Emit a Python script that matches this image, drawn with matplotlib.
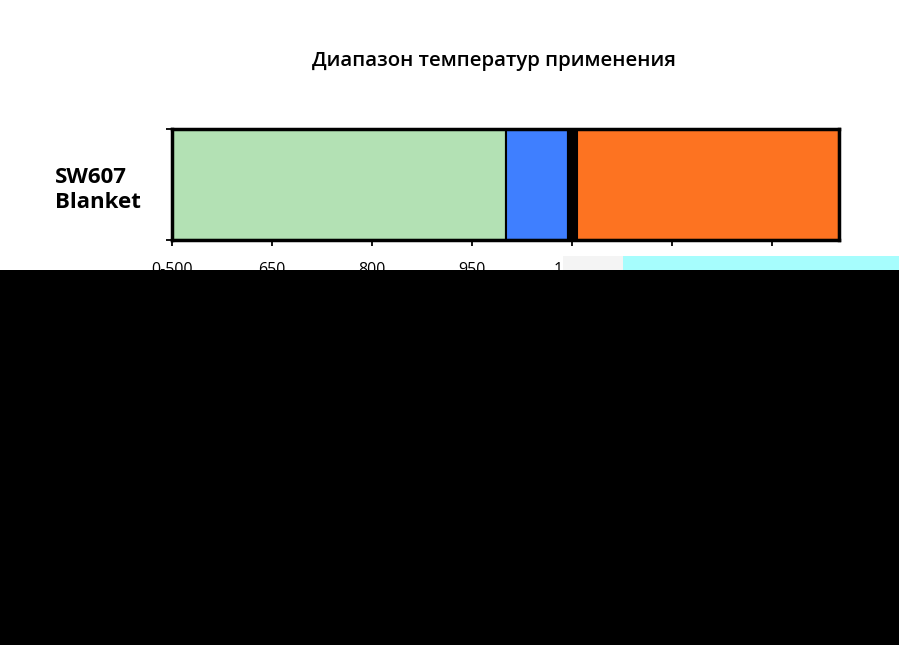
import matplotlib
matplotlib.use("Agg")
import matplotlib.pyplot as plt
from matplotlib.patches import Rectangle

# data
category = "SW607\nBlanket"
seg_starts = [500, 1000, 1093, 1107]
seg_widths = [500, 93, 14, 393]
seg_colors = ["#b3e1b4", "#3f7fff", "#000000", "#fd7321"]
tick_values = [500, 650, 800, 950, 1100, 1250, 1400]
tick_labels = ["0-500", "650", "800", "950", "1100", "1250", "1400"]
title = "Диапазон температур применения"

plt.rcParams['font.family'] = ['Open Sans', 'DejaVu Sans']

W, H = 899, 645
fig = plt.figure(figsize=(W / 100, H / 100), dpi=100)
fig.patch.set_facecolor("white")

ax = fig.add_axes([172 / W, 1 - 240 / H, (839 - 172) / W, (240 - 129) / H])

ax.barh([0.5], seg_widths, left=seg_starts, height=1.0, color=seg_colors,
        edgecolor="black", linewidth=1.5, zorder=2)

ax.set_xlim(500, 1500)
ax.set_ylim(0, 1)
ax.set_xticks(tick_values)
ax.set_xticklabels(tick_labels, fontsize=11.5)
ax.set_yticks([0, 1])
ax.set_yticklabels(["", ""])
ax.tick_params(axis="x", length=4, width=1.3, pad=12)
ax.tick_params(axis="y", length=4, width=1.3)
for sp in ax.spines.values():
    sp.set_linewidth(2.5)
    sp.set_color("black")
    sp.set_zorder(3)

# category label on the left
fig.text(55 / W, 1 - 190 / H, category, fontsize=16, fontweight="bold",
         ha="left", va="center", linespacing=1.3)

# title
fig.text(494 / W, 1 - 61 / H, title, fontsize=14.7, fontweight="semibold",
         ha="center", va="center")

# the lower part of the reference image is blank (black) with some noise above it
fig.patches.append(Rectangle((0, 0), 1, 1 - 270 / H, transform=fig.transFigure,
                             facecolor="black", edgecolor="none", zorder=10))
fig.patches.append(Rectangle((563 / W, 1 - 270 / H), (623 - 563) / W, 14 / H,
                             transform=fig.transFigure, facecolor="#f4f4f4",
                             edgecolor="none", zorder=10))
fig.patches.append(Rectangle((623 / W, 1 - 270 / H), (899 - 623) / W, 14 / H,
                             transform=fig.transFigure, facecolor="#a6fdfd",
                             edgecolor="none", zorder=10))

fig.savefig("out.png", dpi=100, facecolor="white")
